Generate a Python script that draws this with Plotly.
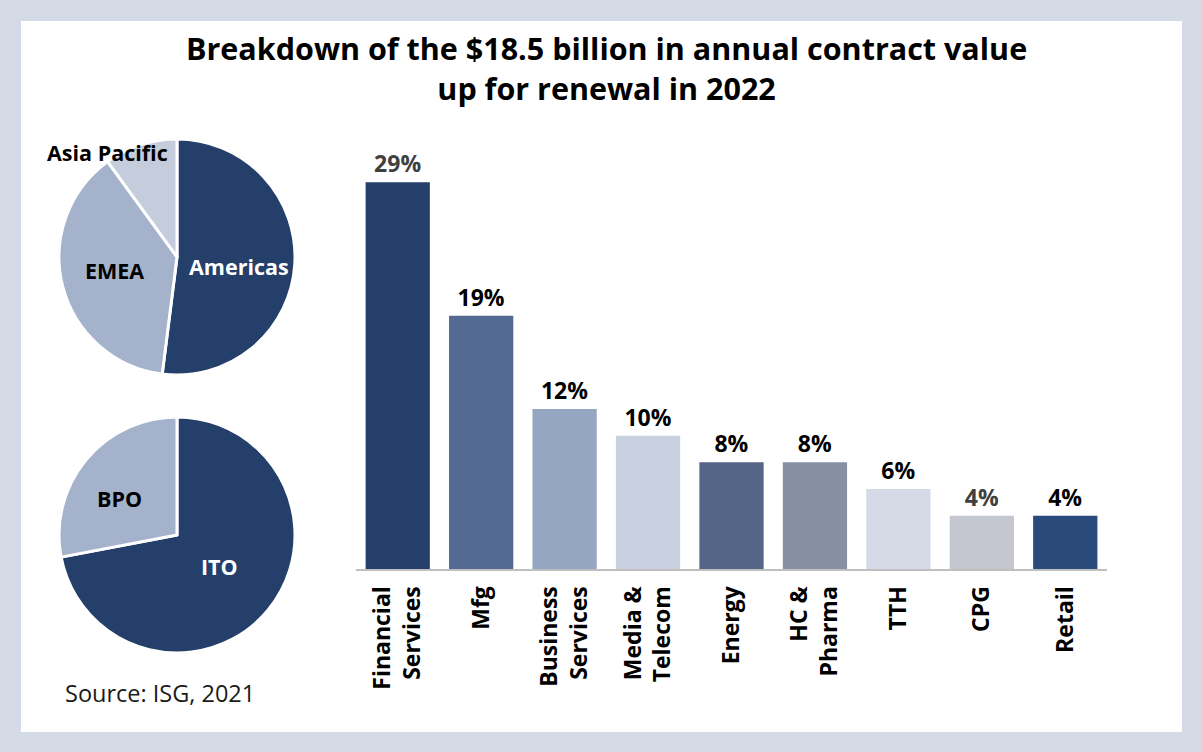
import plotly.graph_objects as go

# region split (top pie)
regions = ["Americas", "EMEA", "Asia Pacific"]
region_share = [52, 38, 10]
region_colors = ["#233F6A", "#A4B2CB", "#C5CDDC"]

# service split (bottom pie)
services = ["ITO", "BPO"]
service_share = [72, 28]
service_colors = ["#233F6A", "#A4B2CB"]

# industry bars
industries = ["Financial<br>Services", "Mfg", "Business<br>Services", "Media &<br>Telecom",
              "Energy", "HC &<br>Pharma", "TTH", "CPG", "Retail"]
industry_pct = [29, 19, 12, 10, 8, 8, 6, 4, 4]
bar_colors = ["#233F6A", "#556A93", "#95A6C2", "#C8D0DF", "#556588",
              "#878FA5", "#D4DAE6", "#C4C7D0", "#2A4A7B"]
label_colors = ["#404040", "#000000", "#000000", "#000000", "#000000",
                "#000000", "#000000", "#404040", "#000000"]

W, H = 1202, 752
FONT = "Open Sans"


def px_x(x):
    return x / W


def px_y(y):
    return 1 - y / H


fig = go.Figure()

fig.add_trace(go.Pie(
    labels=regions, values=region_share, sort=False, direction="clockwise",
    marker=dict(colors=region_colors, line=dict(color="white", width=3)),
    textinfo="none", hoverinfo="label+percent", showlegend=False,
    domain=dict(x=[px_x(59), px_x(295)], y=[px_y(375), px_y(139)]),
))

fig.add_trace(go.Pie(
    labels=services, values=service_share, sort=False, direction="clockwise",
    marker=dict(colors=service_colors, line=dict(color="white", width=3)),
    textinfo="none", hoverinfo="label+percent", showlegend=False,
    domain=dict(x=[px_x(59), px_x(295)], y=[px_y(653), px_y(417)]),
))

fig.add_trace(go.Bar(
    x=industries, y=industry_pct,
    marker=dict(color=bar_colors, line=dict(width=0)),
    text=[f"<b>{v}%</b>" for v in industry_pct], textposition="outside",
    textfont=dict(family=FONT, size=23, color=label_colors),
    cliponaxis=False, showlegend=False,
))

# pie labels
pie_labels = [
    ("Asia Pacific", 107, 152, "black"),
    ("EMEA", 114, 270, "black"),
    ("Americas", 239, 266, "white"),
    ("BPO", 119, 498, "black"),
    ("ITO", 219, 566, "white"),
]
annotations = []
for txt, x, y, c in pie_labels:
    annotations.append(dict(
        text=f"<b>{txt}</b>", x=px_x(x), y=px_y(y), xref="paper", yref="paper",
        showarrow=False, font=dict(family=FONT, size=21.5, color=c),
        xanchor="center", yanchor="middle",
    ))

annotations.append(dict(
    text="<b>Breakdown of the $18.5 billion in annual contract value<br>up for renewal in 2022</b>",
    x=px_x(606), y=px_y(68), xref="paper", yref="paper", showarrow=False,
    font=dict(family=FONT, size=30.5, color="black"), xanchor="center", yanchor="middle",
))
annotations.append(dict(
    text="Source: ISG, 2021", x=px_x(63), y=px_y(693), xref="paper", yref="paper",
    showarrow=False, font=dict(family=FONT, size=23.5, color="#1a1a1a"),
    xanchor="left", yanchor="middle",
))

fig.update_layout(
    width=W, height=H,
    margin=dict(l=0, r=0, t=0, b=0),
    paper_bgcolor="#D5DBE6", plot_bgcolor="white",
    bargap=0.23,
    font=dict(family=FONT, color="black"),
    annotations=annotations,
    shapes=[dict(type="rect", xref="paper", yref="paper", x0=px_x(21), x1=px_x(1182),
                 y0=px_y(732), y1=px_y(21), fillcolor="white", line=dict(width=0), layer="below")],
    xaxis=dict(
        domain=[px_x(356), px_x(1107)], showgrid=False, showline=True, linecolor="#BFBFBF",
        linewidth=2, ticks="", tickangle=-90, ticklabelstandoff=6,
        tickfont=dict(family=FONT, size=23, color="black"), tickprefix="<b>", ticksuffix="</b>",
    ),
    yaxis=dict(
        domain=[px_y(569), px_y(169)], range=[0, 30], visible=False, showgrid=False,
    ),
)

# page margin off so the figure fills the window
fig.write_html("out.html", config={"displayModeBar": False},
               post_script="document.body.style.margin='0px';")
